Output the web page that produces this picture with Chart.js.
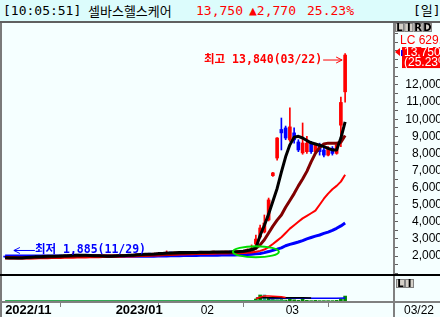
<!DOCTYPE html>
<html>
<head>
<meta charset="utf-8">
<script src="https://cdn.jsdelivr.net/npm/chart.js@4.4.1/dist/chart.umd.min.js"></script>
<style>
  html, body { margin: 0; padding: 0; }
  body { width: 440px; height: 317px; overflow: hidden; position: relative; background: #f5ffff; }
  #chart { position: absolute; left: 0; top: 0; }
  #head { position: absolute; left: 0; top: 0; width: 440px; height: 21px; background: #dcfcfc;
          border-bottom: 2px solid #606060; font: 13px "DejaVu Sans Mono", "Noto Sans CJK KR", monospace; color: #000; }
  #head span { position: absolute; top: 2px; line-height: 17px; white-space: nowrap; }
  #head .red { color: #ff0000; }
</style>
</head>
<body>
<canvas id="chart" width="440" height="317"></canvas>
<div id="head">
  <span style="left:3px">[10:05:51]</span>
  <span style="left:88px;font-family:'Noto Sans CJK KR'">셀바스헬스케어</span>
  <span class="red" style="left:196px">13,750</span>
  <span class="red" style="left:249px">▲2,770</span>
  <span class="red" style="left:307px">25.23%</span>
  <span style="left:413px">[일]</span>
</div>
<script>
// trading days shown (2022/11/24 .. 2023/03/22)
const dates = ['11/24','11/25','11/28','11/29','11/30',
  '12/01','12/02','12/05','12/06','12/07','12/08','12/09','12/12','12/13','12/14','12/15','12/16','12/19','12/20','12/21','12/22','12/23','12/26','12/27','12/28','12/29',
  '01/02','01/03','01/04','01/05','01/06','01/09','01/10','01/11','01/12','01/13','01/16','01/17','01/18','01/19','01/20','01/25','01/26','01/27','01/30','01/31',
  '02/01','02/02','02/03','02/06','02/07','02/08','02/09','02/10','02/13','02/14','02/15','02/16','02/17','02/20','02/21','02/22','02/23','02/24','02/27','02/28',
  '03/02','03/03','03/06','03/07','03/08','03/09','03/10','03/13','03/14','03/15','03/16','03/17','03/20','03/21','03/22'];
const emptySlots = 11;

const tickDates = ['11/24', '01/02', '02/01', '03/02'];
const tickLabels = ['2022/11', '2023/01', '02', '03'];
const priceLabelMin = 2000, priceLabelMax = 12000, priceStep = 500;

const opens = [1960,1940,1920,1900,1910,1940,1980,1960,1970,1990,
  2000,1980,1990,2010,2000,2020,2040,2080,2050,2040,
  2030,2020,2010,2000,1990,1980,1990,2000,2010,2030,
  2050,2060,2080,2100,2120,2110,2130,2150,2140,2200,
  2180,2190,2210,2220,2200,2210,2230,2220,2210,2230,
  2240,2220,2230,2250,2240,2260,2270,2300,2380,2700,
  3110,3400,4110,6700,7730,9400,9490,8790,9200,8670,
  8030,8100,8600,8100,8500,8200,7900,8300,8000,9650,11600];
const highs = [1980,1950,1930,1920,1950,1990,2000,1990,2010,2020,
  2010,2000,2020,2020,2030,2060,2180,2090,2060,2050,
  2040,2030,2020,2010,2000,2000,2010,2020,2040,2060,
  2070,2090,2110,2130,2130,2140,2160,2160,2300,2210,
  2200,2220,2230,2230,2220,2240,2240,2230,2240,2250,
  2250,2240,2260,2260,2270,2290,2330,2420,2650,3230,
  3810,4400,5390,6900,8920,10070,9600,10660,9490,8800,
  9780,9000,8700,8600,8600,8300,8400,8400,8600,11300,13840];
const lows = [1930,1910,1895,1885,1900,1930,1950,1950,1960,1980,
  1970,1970,1980,1990,1990,2010,2030,2040,2030,2020,
  2010,2000,1990,1980,1970,1970,1980,1990,2000,2020,
  2040,2050,2070,2090,2100,2100,2120,2130,2130,2170,
  2170,2180,2200,2190,2190,2200,2210,2200,2200,2220,
  2210,2210,2220,2230,2230,2250,2260,2290,2370,2640,
  3050,3350,4050,6650,7600,8200,8800,8700,8600,8100,
  7950,8000,8000,8000,7900,7800,7850,7900,7950,8400,11000];
const closes = [1940,1920,1900,1910,1940,1980,1960,1970,1990,2000,
  1980,1990,2010,2000,2020,2040,2080,2050,2040,2030,
  2020,2010,2000,1990,1980,1990,2000,2010,2030,2050,
  2060,2080,2100,2120,2110,2130,2150,2140,2200,2180,
  2190,2210,2220,2200,2210,2230,2220,2210,2230,2240,
  2220,2230,2250,2240,2260,2270,2300,2380,2450,2990,
  3640,3930,5280,6860,8900,9200,8900,9550,8790,8200,
  8610,8600,8100,8500,8100,7900,8300,8000,8500,10980,13750];

// moving average lines
const ma5 = [1900,1890,1880,1880,1890,1910,1930,1950,1960,1970,
  1980,1990,1990,2000,2010,2020,2040,2050,2050,2040,
  2030,2020,2010,2000,1990,1990,2000,2010,2020,2040,
  2050,2070,2090,2100,2110,2120,2140,2150,2170,2180,
  2190,2200,2210,2210,2210,2210,2220,2220,2220,2230,
  2230,2230,2240,2240,2250,2260,2280,2320,2380,2470,
  3200,3800,4450,5200,5950,6900,7800,8500,8950,9000,
  8900,8750,8620,8550,8480,8400,8300,8200,8200,8900,9850];
const ma20 = [1920,1915,1910,1905,1900,1900,1905,1910,1915,1920,
  1930,1940,1950,1960,1970,1980,1990,2000,2005,2010,
  2010,2015,2015,2020,2020,2020,2020,2025,2030,2030,
  2035,2040,2050,2060,2070,2080,2090,2100,2110,2120,
  2130,2140,2150,2160,2170,2180,2190,2195,2200,2205,
  2210,2215,2220,2225,2230,2240,2260,2290,2330,2450,
  2650,2950,3350,3750,4100,4400,4850,5250,5650,6100,
  6500,6950,7500,8000,8350,8550,8600,8600,8600,8650,9050];
const ma60 = [1850,1850,1850,1850,1850,1855,1860,1860,1865,1870,
  1875,1880,1885,1890,1895,1900,1905,1910,1915,1920,
  1925,1930,1935,1940,1945,1950,1955,1960,1965,1970,
  1975,1985,1995,2005,2015,2025,2035,2045,2055,2065,
  2075,2085,2095,2105,2110,2115,2120,2125,2130,2135,
  2140,2145,2150,2155,2160,2165,2175,2190,2210,2250,
  2300,2380,2520,2700,2900,3100,3350,3600,3800,4000,
  4200,4350,4500,4650,5000,5350,5650,5900,6100,6350,6750];
const ma120 = [2000,2000,2000,2000,2000,2000,2000,2000,2000,2000,
  1995,1995,1995,1990,1990,1990,1990,1985,1985,1985,
  1985,1980,1980,1980,1980,1980,1980,1980,1980,1980,
  1980,1980,1985,1985,1990,1990,1995,2000,2005,2010,
  2015,2020,2025,2030,2030,2035,2040,2040,2045,2050,
  2050,2055,2060,2060,2065,2070,2080,2090,2110,2130,
  2150,2200,2260,2330,2400,2480,2600,2680,2750,2820,
  2900,3000,3080,3160,3230,3320,3400,3500,3620,3760,3930];

// volume panel (relative units, panel top = 100)
const volume = [2,2,3,2,2,2,2,1,2,2,
  2,1,2,2,2,2,3,4,2,4,
  2,1,2,2,2,1,2,2,2,2,
  2,4,2,2,2,2,2,3,6,2,
  2,2,2,2,2,2,2,2,2,2,
  2,2,2,3,2,2,3,4,6,11,
  26,26,14,9,8,9,7,15,8,6,
  11,6,5,6,5,5,5,5,6,12,22];
const volGreen = [['11/24',5],['12/26',5],['01/26',5],['02/21',5],['03/02',5]];
const volRed = [['02/20',12],['02/21',18],['02/22',22],['02/23',22],['02/24',21],['02/27',20],['02/28',19],['03/02',17]];
const volBlack = [['02/20',14],['02/21',16],['02/23',16],['02/27',16],['03/02',16],['03/06',16],['03/08',16],['03/10',15]];
const volBlue = [['02/23',13],['03/02',14],['03/08',14],['03/14',14],['03/20',14],['03/22',15]];

const labels = dates.concat(new Array(emptySlots).fill(''));
const upColor = '#ff0000', downColor = '#0000ff';
const candleColor = c => closes[c.dataIndex] >= opens[c.dataIndex] ? upColor : downColor;
const pts = arr => arr.map(p => ({ x: p[0], y: p[1] }));

Chart.defaults.font.family = "'Liberation Sans'";

function arrow(ctx, x1, y1, x2, y2) {
  const dir = Math.sign(x2 - x1);
  ctx.beginPath();
  ctx.moveTo(x1, y1); ctx.lineTo(x2, y2);
  ctx.moveTo(x2 - dir * 6, y2 - 3); ctx.lineTo(x2, y2); ctx.lineTo(x2 - dir * 6, y2 + 3);
  ctx.stroke();
}

function button(ctx, x0, y0, w, h, ch) {
  ctx.fillStyle = '#d4d0c8';
  ctx.fillRect(x0, y0, w, h);
  ctx.strokeStyle = '#808080';
  ctx.lineWidth = 1;
  ctx.strokeRect(x0 + 0.5, y0 + 0.5, w - 1, h - 1);
  ctx.fillStyle = '#000';
  ctx.font = 'bold 10px "DejaVu Sans"';
  ctx.textAlign = 'center';
  ctx.textBaseline = 'middle';
  ctx.fillText(ch, x0 + w / 2, y0 + h / 2 + 0.5);
}

const decor = {
  id: 'decor',
  afterDraw(chart) {
    const { ctx } = chart;
    const { x, y, v } = chart.scales;
    const W = chart.width, H = chart.height;
    ctx.save();

    // frame
    ctx.fillStyle = '#7a7a7a';
    ctx.fillRect(0, 22, 2, H - 22);
    ctx.fillStyle = '#000';
    ctx.fillRect(0, v.top - 1, W, 2);
    ctx.fillStyle = '#808080';
    ctx.fillRect(0, x.top - 1, W, 2);
    ctx.fillRect(y.left - 1, x.top, 2, H - x.top);

    // last date under the price axis
    ctx.fillStyle = '#000';
    ctx.font = '12px "Liberation Sans"';
    ctx.textAlign = 'left';
    ctx.textBaseline = 'middle';
    ctx.fillText('03/22', y.left + 10, x.top + 9);

    // buttons
    ['L', 'I', 'R', 'D'].forEach((c, k) => button(ctx, y.left + 1 + k * 9.3, 23, 9, 9, c));
    ['L', 'I'].forEach((c, k) => button(ctx, y.left + 2 + k * 9, v.top + 4, 9, 9, c));

    // LC label
    ctx.fillStyle = '#ff0000';
    ctx.font = '12px "Liberation Sans"';
    ctx.textAlign = 'left';
    ctx.fillText('LC 629,', y.left + 6, 41);

    // current price box
    const cy = y.getPixelForValue(closes[closes.length - 1]) - 3;
    ctx.fillStyle = '#ff0000';
    ctx.fillRect(y.left + 8, cy - 5, 40, 21);
    ctx.beginPath();
    ctx.moveTo(y.left + 1, cy); ctx.lineTo(y.left + 6, cy - 4); ctx.lineTo(y.left + 6, cy + 4);
    ctx.closePath(); ctx.fill();
    ctx.fillStyle = '#0000ff';
    ctx.fillRect(y.left + 7, cy - 2, 1.5, 6);
    ctx.fillStyle = '#fff';
    ctx.fillText('13,750', y.left + 10, cy + 1);
    ctx.fillText('(25.23%)', y.left + 10, cy + 11);

    // high annotation
    const hi = closes.length - 1;
    const hx = x.getPixelForValue(hi), hy = y.getPixelForValue(highs[hi]) + 6;
    ctx.font = 'bold 11.5px "DejaVu Sans Mono", "Noto Sans CJK KR"';
    ctx.fillStyle = '#ff0000';
    ctx.strokeStyle = '#ff0000';
    ctx.lineWidth = 1;
    ctx.textAlign = 'right';
    ctx.fillText('최고 13,840(03/22)', hx - 23, hy);
    arrow(ctx, hx - 22, hy + 0.5, hx - 3, hy + 0.5);

    // low annotation
    const lo = dates.indexOf('11/29');
    const lx = x.getPixelForValue(lo) - 4, ly = y.getPixelForValue(lows[lo]) - 8;
    ctx.fillStyle = '#0000ff';
    ctx.strokeStyle = '#0000ff';
    ctx.textAlign = 'left';
    arrow(ctx, lx + 21, ly + 0.5, lx, ly + 0.5);
    ctx.fillText('최저 1,885(11/29)', lx + 21, ly);

    // green ellipse around the breakout
    ctx.strokeStyle = '#00dd00';
    ctx.lineWidth = 2;
    ctx.beginPath();
    ctx.ellipse(x.getPixelForValue(dates.indexOf('02/20')), y.getPixelForValue(2250), 23, 5.5, 0, 0, Math.PI * 2);
    ctx.stroke();

    ctx.restore();
  }
};

const lineDs = (data, color, width, order) => ({
  type: 'line', data, yAxisID: 'y', borderColor: color, borderWidth: width,
  pointRadius: 0, tension: 0, borderJoinStyle: 'round', order
});
const volLine = (data, color) => ({
  type: 'line', data: pts(data), yAxisID: 'v', borderColor: color, borderWidth: 1.5,
  pointRadius: 0, tension: 0, order: 0
});

new Chart(document.getElementById('chart'), {
  data: {
    labels: labels,
    datasets: [
      { type: 'bar', data: lows.map((l, i) => [l, highs[i]]), yAxisID: 'y', backgroundColor: candleColor,
        barThickness: 1, grouped: false, order: 9 },
      { type: 'bar', data: opens.map((o, i) => [o, closes[i]]), yAxisID: 'y', backgroundColor: candleColor,
        barThickness: 3, minBarLength: 1, grouped: false, order: 8 },
      lineDs(ma120, '#0000ff', 3, 5),
      lineDs(ma60, '#ff0000', 2, 4),
      lineDs(ma20, '#800000', 3, 3),
      lineDs(ma5, '#000000', 3, 2),
      { type: 'bar', data: volume, yAxisID: 'v', grouped: false, barThickness: 3,
        backgroundColor: c => c.dataIndex === dates.indexOf('02/22') ? '#339999' : '#008800', order: 7 },
      volLine(volGreen, '#33aa55'),
      volLine(volRed, '#ff0000'),
      volLine(volBlack, '#000000'),
      volLine(volBlue, '#0000ff')
    ]
  },
  options: {
    responsive: false,
    animation: false,
    events: [],
    layout: { padding: { left: 3, top: 23, right: -2, bottom: 0 } },
    plugins: { legend: { display: false }, tooltip: { enabled: false } },
    scales: {
      x: {
        offset: true,
        afterFit: s => { s.height = 15; },
        border: { color: '#808080', width: 2 },
        grid: { offset: true, drawOnChartArea: false, tickLength: 5, tickColor: '#808080' },
        ticks: {
          autoSkip: false, maxRotation: 0, align: 'start', padding: -4, color: '#000',
          font: c => ({ family: 'Liberation Sans', size: (c.tick && c.tick.label && c.tick.label.length > 3) ? 13 : 12,
                        weight: (c.tick && c.tick.label && c.tick.label.length > 3) ? 'bold' : 'normal' }),
          callback: (val, i) => {
            const k = tickDates.indexOf(labels[i]);
            return k >= 0 ? tickLabels[k] : null;
          }
        }
      },
      y: {
        position: 'right', stack: 'right', stackWeight: 252,
        min: 890, max: 15625,
        afterFit: s => { s.width = 48; },
        afterBuildTicks: s => {
          const t = [];
          for (let p = Math.ceil(s.min / priceStep) * priceStep; p <= s.max; p += priceStep) t.push({ value: p });
          s.ticks = t;
        },
        border: { color: '#808080', width: 2 },
        grid: { drawOnChartArea: false, tickLength: 4, tickColor: '#606060' },
        ticks: {
          autoSkip: false, crossAlign: 'far', color: '#000',
          font: { family: 'Liberation Sans', size: 12 },
          callback: val => (val % 1000 === 0 && val >= priceLabelMin && val <= priceLabelMax) ? val.toLocaleString('en-US') : ''
        }
      },
      v: {
        position: 'right', stack: 'right', stackWeight: 27,
        min: 0, max: 100,
        afterFit: s => { s.width = 48; },
        border: { color: '#808080', width: 2 },
        grid: { display: false },
        ticks: { display: false }
      }
    }
  },
  plugins: [decor]
});
</script>
</body>
</html>
